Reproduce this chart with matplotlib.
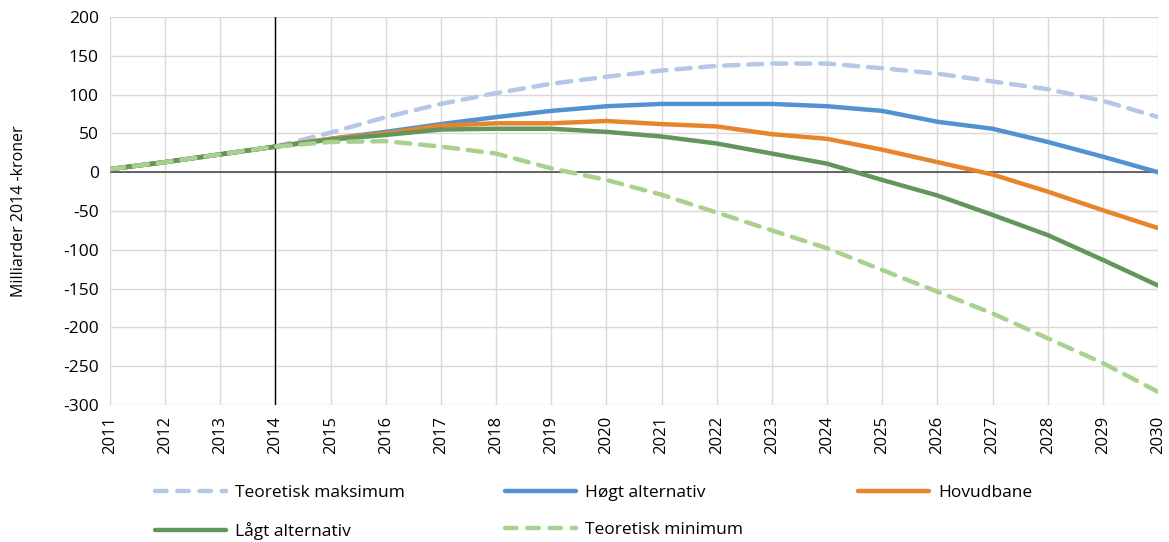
import matplotlib
matplotlib.use("Agg")
import matplotlib.pyplot as plt
from matplotlib.lines import Line2D

plt.rcParams['font.family'] = ['Open Sans', 'DejaVu Sans']

years = list(range(2011, 2031))
teoretisk_maks = [4, 13, 23, 33, 51, 71, 88, 102, 114, 123, 131, 137, 140, 140, 134, 127, 117, 107, 92, 71]
hogt_alt = [4, 13, 23, 33, 43, 52, 62, 71, 79, 85, 88, 88, 88, 85, 79, 65, 56, 39, 20, 0]
hovudbane = [4, 13, 23, 33, 43, 50, 60, 63, 63, 66, 62, 59, 49, 43, 29, 13, -3, -25, -49, -72]
lagt_alt = [4, 13, 23, 33, 42, 48, 55, 56, 56, 52, 46, 37, 24, 11, -10, -30, -55, -81, -113, -146]
teoretisk_min = [4, 13, 23, 33, 39, 40, 33, 24, 5, -10, -29, -52, -75, -98, -126, -154, -182, -214, -246, -283]
yticks = list(range(-300, 201, 50))

c_max = '#b4c7e7'
c_hogt = '#5193d0'
c_hov = '#e8852c'
c_lagt = '#62965a'
c_min = '#a9d18e'

fig = plt.figure(figsize=(11.69, 5.42), dpi=100)
ax = fig.add_axes([110/1169, 1-405/542, (1158-110)/1169, (405-17)/542])

lw = 3.2
dash = (3.2, 2.2)
l_max, = ax.plot(years, teoretisk_maks, color=c_max, lw=lw, dashes=dash, dash_capstyle='round', label='Teoretisk maksimum', zorder=3)
l_hogt, = ax.plot(years, hogt_alt, color=c_hogt, lw=lw, label='Høgt alternativ', zorder=4, solid_capstyle='round')
l_hov, = ax.plot(years, hovudbane, color=c_hov, lw=lw, label='Hovudbane', zorder=5, solid_capstyle='round')
l_lagt, = ax.plot(years, lagt_alt, color=c_lagt, lw=lw, label='Lågt alternativ', zorder=6, solid_capstyle='round')
l_min, = ax.plot(years, teoretisk_min, color=c_min, lw=lw, dashes=dash, dash_capstyle='round', label='Teoretisk minimum', zorder=7)

ax.set_xlim(2011, 2030)
ax.set_ylim(-300, 200)
ax.set_xticks(years)
ax.set_xticklabels([str(y) for y in years], rotation=90, fontsize=12)
ax.set_yticks(yticks)
ax.set_yticklabels([str(v) for v in yticks], fontsize=12.5)
ax.tick_params(length=0, pad=8)
ax.grid(True, color='#d9d9d9', lw=1)
ax.set_axisbelow(True)
for s in ax.spines.values():
    s.set_visible(False)
ax.axhline(0, color='#595959', lw=1.3, zorder=2)
ax.axvline(2014, color='black', lw=1, zorder=2)
ax.set_ylabel('Milliarder 2014 -kroner', fontsize=11.5)
ax.yaxis.set_label_coords(-0.079, 0.5)

# legend proxies (longer dashes, like the reference legend)
def proxy(line, dashed):
    kw = dict(color=line.get_color(), lw=lw, label=line.get_label())
    if dashed:
        kw.update(dashes=(2.6, 2.4), dash_capstyle='round')
    else:
        kw.update(solid_capstyle='round')
    return Line2D([], [], **kw)

cols = [([proxy(l_max, True), proxy(l_lagt, False)], 155),
        ([proxy(l_hogt, False), proxy(l_min, True)], 505),
        ([proxy(l_hov, False)], 858)]
for handles, xpix in cols:
    fig.legend(handles=handles, loc='upper left', bbox_to_anchor=(xpix/1169, 1-485/542),
               frameon=False, fontsize=12.5, handlelength=4.1, handletextpad=0.5,
               labelspacing=1.2, borderaxespad=0, borderpad=0)

fig.savefig('out.png', dpi=100)
